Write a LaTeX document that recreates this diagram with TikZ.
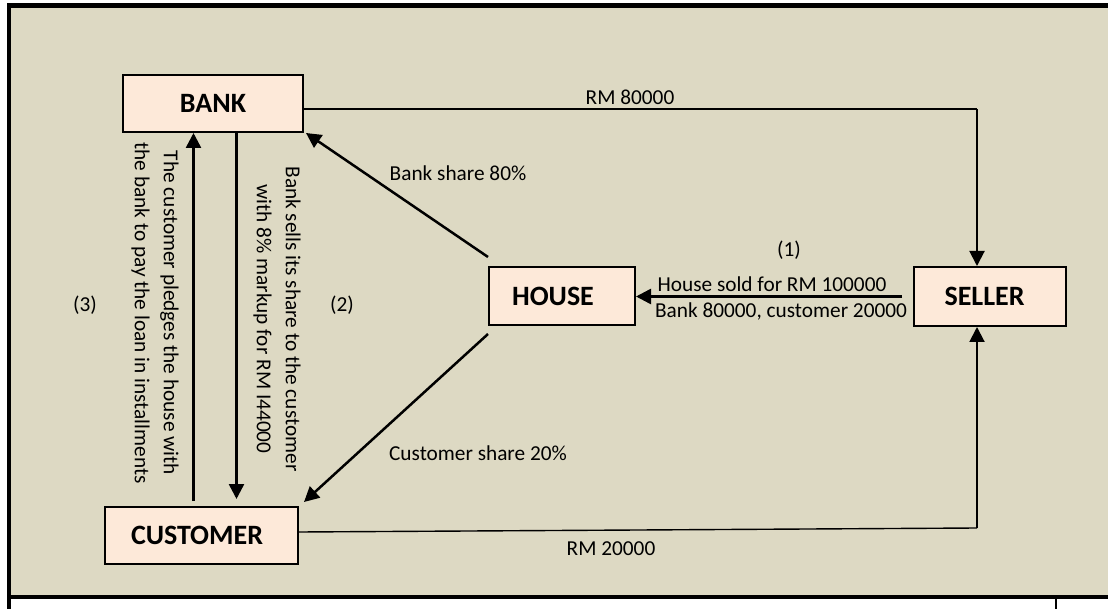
\documentclass[tikz,border=0pt]{standalone}
\usepackage{fontspec}
\setmainfont{Carlito}
\usetikzlibrary{arrows.meta}
\definecolor{bgtan}{RGB}{221,217,195}
\definecolor{boxpeach}{RGB}{253,233,217}
\tikzset{
  entity/.style={draw=black, line width=2pt, fill=boxpeach, inner sep=0pt,
    font=\fontsize{28}{30}\selectfont\bfseries},
  conn/.style={line width=2.5pt, -{Triangle[length=15pt,width=15pt]}},
  payrun/.style={line width=1.4pt},
  paydrop/.style={line width=2pt, -{Triangle[length=15pt,width=15pt]}},
  lbl/.style={font=\fontsize{21.3}{29}\selectfont, inner sep=0pt},
}
\begin{document}
\begin{tikzpicture}[x=1pt, y=-1pt]
\useasboundingbox (0,0) rectangle (1108,609);
% background panel and its frame
\fill[bgtan] (9,5.5) rectangle (1108,597);
\draw[line width=4.5pt] (1108,5.5) -- (9,5.5) -- (9,609);
\draw[line width=4.5pt] (7,597) -- (1108,597);
\draw[line width=2pt] (1056,597) -- (1056,609);

% parties
\node[entity, minimum width=180pt, minimum height=57pt] (bank) at (213,103.5) {BANK};
\node[entity, minimum width=146pt, minimum height=58pt] (house) at (562,296) {\kern-18pt HOUSE};
\node[entity, minimum width=152pt, minimum height=59pt] (seller) at (990,296.5) {\kern-11pt SELLER};
\node[entity, minimum width=193pt, minimum height=57pt] (customer) at (201.5,535.5) {\kern-9pt CUSTOMER};

% bank pays the seller
\coordinate (bout) at ([yshift=-5.5pt]bank.east);
\coordinate (sin) at ([xshift=-13pt]seller.north);
\coordinate (bturn) at (sin |- bout);
\draw[payrun] (bout) -- (bturn);
\draw[paydrop] (bturn) -- (sin);
\node[lbl] (l80) at (630,97) {RM 80000};

% customer pays the seller
\coordinate (turn) at (977,528);
\draw[payrun] ([yshift=3.5pt]customer.east) -- (turn);
\draw[paydrop] (turn) -- ([xshift=-13pt]seller.south);
\node[lbl] (l20) at (611,549) {RM 20000};

% seller hands over the house
\draw[conn] ([xshift=-11pt]seller.west) -- (seller.west -| house.east);
\node[lbl] (one) at (789,250) {(1)};
\node[lbl] (sold) at (772,284) {House sold for RM 100000};
\node[lbl] (split) at (781,311) {Bank 80000, customer 20000};

% shares of the house
\draw[conn] ([yshift=9pt]house.north west) -- ([shift={(2pt,0pt)}]bank.south east);
\node[lbl] (bshare) at (458,173) {Bank share 80\%};
\draw[conn] ([yshift=-8pt]house.south west) -- ([shift={(5pt,4pt)}]customer.north east);
\node[lbl] (cshare) at (478,453) {Customer share 20\%};

% sale to the customer and the pledge back to the bank
\coordinate (cn) at ([yshift=7pt]customer.north);
\draw[conn] ([xshift=23.5pt]bank.south) coordinate (dn) -- (dn |- cn);
\draw[conn] ([shift={(-8pt,5pt)}]customer.north) coordinate (up) -- (up |- bank.south);

\node[lbl, rotate=-90, align=center] (sells) at (277,319)
  {Bank sells its share to the customer\\with 8\% markup for RM I44000};
\node[lbl, rotate=-90, align=center] (pledge) at (155,313)
  {The customer pledges the house with\\the bank to pay the loan in installments};
\node[lbl] (two) at (342,305) {(2)};
\node[lbl] (three) at (85,305) {(3)};
\end{tikzpicture}
\end{document}
